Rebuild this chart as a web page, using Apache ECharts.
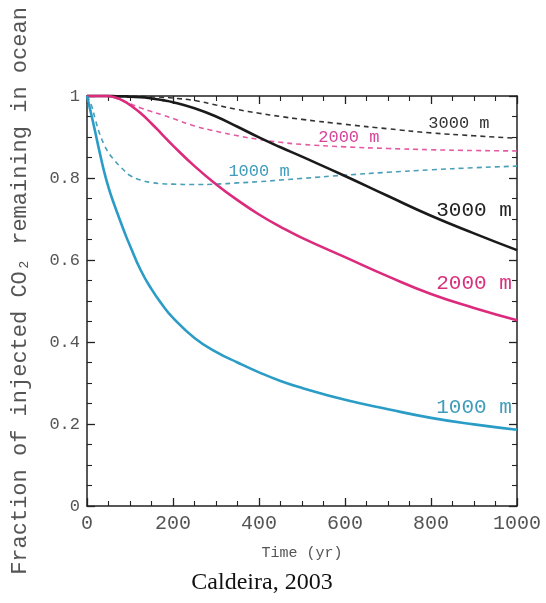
<!DOCTYPE html>
<html>
<head>
<meta charset="utf-8">
<script src="https://cdn.jsdelivr.net/npm/echarts@6/dist/echarts.min.js"></script>
<style>html,body{margin:0;padding:0;background:#fff;}#c{width:546px;height:603px;}</style>
</head>
<body>
<div id="c"></div>
<script>
var years      = [0,    10,    20,    30,    40,    50,    60,    75,    90,    100,   125,   150,   175,   200,   250,   300,   350,   400,   450,   500,   600,   700,   800,   900,   1000];
var solid1000  = [1.0,  0.955, 0.908, 0.86,  0.815, 0.777, 0.745, 0.702, 0.66,  0.635, 0.575, 0.529, 0.491, 0.459, 0.41,  0.376, 0.35,  0.326, 0.305, 0.288, 0.259, 0.236, 0.215, 0.199, 0.186];
var dashed1000 = [1.0,  0.978, 0.94,  0.906, 0.881, 0.862, 0.848, 0.83,  0.815, 0.806, 0.795, 0.789, 0.786, 0.785, 0.784, 0.785, 0.788, 0.791, 0.795, 0.799, 0.807, 0.814, 0.82,  0.825, 0.829];
var solid2000  = [1.0,  1.0,   1.0,   1.0,   1.0,   1.0,   0.998, 0.993, 0.985, 0.978, 0.958, 0.933, 0.906, 0.879, 0.829, 0.785, 0.746, 0.711, 0.681, 0.654, 0.607, 0.56,  0.517, 0.483, 0.453];
var dashed2000 = [1.0,  1.0,   1.0,   1.0,   1.0,   0.999, 0.997, 0.992, 0.986, 0.981, 0.971, 0.962, 0.954, 0.945, 0.927, 0.914, 0.903, 0.894, 0.887, 0.882, 0.876, 0.872, 0.869, 0.867, 0.866];
var solid3000  = [1.0,  1.0,   1.0,   1.0,   1.0,   1.0,   1.0,   0.999, 0.999, 0.998, 0.997, 0.994, 0.99,  0.985, 0.97,  0.95,  0.925, 0.899, 0.875, 0.852, 0.805, 0.756, 0.708, 0.665, 0.624];
var dashed3000 = [1.0,  1.0,   1.0,   1.0,   1.0,   1.0,   1.0,   1.0,   1.0,   0.999, 0.999, 0.998, 0.997, 0.995, 0.989, 0.978, 0.967, 0.958, 0.95,  0.943, 0.931, 0.92,  0.91,  0.903, 0.897];
var xTicks = [0, 200, 400, 600, 800, 1000];
var yTicks = [0, 0.2, 0.4, 0.6, 0.8, 1];

function pairs(vals){ return years.map(function(t,i){ return [t, vals[i]]; }); }

var mono = '"Liberation Mono", "DejaVu Sans Mono", monospace';
var C_BLUE = '#2a9cc6', C_MAG = '#dc2a7c', C_BLK = '#1a1a1a';
var C_BLUE_D = '#4a9fb8', C_MAG_D = '#e45aa2', C_BLK_D = '#333333';

function labelPoint(t, f, text, color, size, align){
  return {
    coord: [t, f], symbol: 'circle', symbolSize: 1,
    itemStyle: { color: 'rgba(0,0,0,0)' },
    label: { show: true, formatter: text, color: color, fontFamily: mono, fontSize: size,
             position: 'inside', align: align || 'center', verticalAlign: 'middle' }
  };
}

function mkSeries(name, vals, color, width, dashed, marks){
  return {
    name: name, type: 'line', data: pairs(vals), smooth: 0.5,
    showSymbol: false, symbol: 'none', clip: false, z: dashed ? 2 : 3,
    lineStyle: { color: color, width: width, type: dashed ? [5, 4] : 'solid' },
    markPoint: { silent: true, data: marks }
  };
}

function axisCommon(){
  return {
    axisLine: { show: true, onZero: false, lineStyle: { color: '#222', width: 1.5 } },
    axisTick: { show: true, inside: true, length: 8, lineStyle: { color: '#222', width: 1.3 } },
    minorTick: { show: true, splitNumber: 4, length: 5, lineStyle: { color: '#222', width: 1.1 } },
    splitLine: { show: false }
  };
}

var option = {
  animation: false,
  backgroundColor: '#ffffff',
  grid: { left: 87, right: 29, top: 96, bottom: 97 },
  xAxis: [
    Object.assign(axisCommon(), {
      type: 'value', min: xTicks[0], max: xTicks[xTicks.length - 1], interval: 200, position: 'bottom',
      axisLabel: { color: '#555', fontFamily: mono, fontSize: 20, margin: 8, formatter: function(v){ return String(v); } },
      name: 'Time (yr)', nameLocation: 'middle', nameGap: 40,
      nameTextStyle: { color: '#555', fontFamily: mono, fontSize: 15 }
    }),
    Object.assign(axisCommon(), {
      type: 'value', min: 0, max: 1000, interval: 200, position: 'top',
      axisLabel: { show: false }
    })
  ],
  yAxis: [
    Object.assign(axisCommon(), {
      type: 'value', min: yTicks[0], max: yTicks[yTicks.length - 1], interval: 0.2, position: 'left',
      axisLabel: { color: '#555', fontFamily: mono, fontSize: 17, margin: 7 }
    }),
    Object.assign(axisCommon(), {
      type: 'value', min: 0, max: 1, interval: 0.2, position: 'right',
      axisLabel: { show: false }
    })
  ],
  graphic: [
    { type: 'text', x: 20, y: 291, rotation: Math.PI / 2,
      style: { text: 'Fraction of injected CO\u2082 remaining in ocean', fill: '#555', font: '22px ' + mono,
               align: 'center', verticalAlign: 'middle' } },
    { type: 'text', x: 262, y: 583,
      style: { text: 'Caldeira, 2003', fill: '#111', font: '24px "Liberation Serif", "Times New Roman", serif',
               align: 'center', verticalAlign: 'middle' } }
  ],
  series: [
    mkSeries('dashed3000', dashed3000, C_BLK_D, 1.6, true, [labelPoint(865, 0.932, '3000 m', '#333', 17)]),
    mkSeries('dashed2000', dashed2000, C_MAG_D, 1.6, true, [labelPoint(609, 0.898, '2000 m', '#d8449a', 17)]),
    mkSeries('dashed1000', dashed1000, C_BLUE_D, 1.6, true, [labelPoint(400, 0.815, '1000 m', '#3f9cba', 17)]),
    mkSeries('solid3000', solid3000, C_BLK, 2.6, false, [labelPoint(988, 0.722, '3000 m', '#222', 21, 'right')]),
    mkSeries('solid2000', solid2000, C_MAG, 2.6, false, [labelPoint(988, 0.544, '2000 m', '#d8307e', 21, 'right')]),
    mkSeries('solid1000', solid1000, C_BLUE, 2.6, false, [labelPoint(988, 0.241, '1000 m', '#3f9cba', 21, 'right')])
  ]
};

var chart = echarts.init(document.getElementById('c'), null, { renderer: 'canvas' });
chart.setOption(option);
</script>
</body>
</html>
